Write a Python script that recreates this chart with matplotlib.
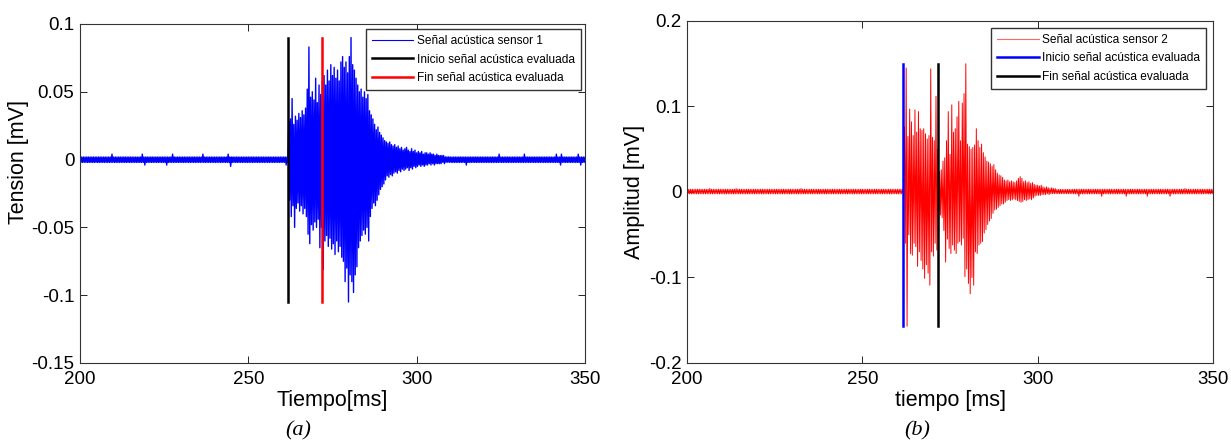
import numpy as np
import matplotlib
matplotlib.use("Agg")
import matplotlib.pyplot as plt
from matplotlib.ticker import FuncFormatter

plt.rcParams['font.family'] = ['Liberation Sans', 'DejaVu Sans']
plt.rcParams['axes.unicode_minus'] = False

# ---------------------------------------------------------------------------
# Acoustic records: per 0.5 ms slot, the positive and negative excursion [mV]
# ---------------------------------------------------------------------------
slot_ms = 0.5
t_start, t_end = 200.0, 350.0
burst_start = 262.0          # first slot of the burst lists

# Sensor 1 (slots 262.0 ... 309.5 ms)
upper_1 = [0.028, 0.030, 0.045, 0.026, 0.032, 0.029, 0.034, 0.031, 0.036, 0.033,
           0.038, 0.052, 0.083, 0.046, 0.050, 0.044, 0.060, 0.042, 0.055, 0.048,
           0.058, 0.062, 0.055, 0.066, 0.058, 0.070, 0.062, 0.068, 0.060, 0.066,
           0.058, 0.072, 0.076, 0.068, 0.072, 0.064, 0.076, 0.090, 0.070, 0.066,
           0.060, 0.055, 0.050, 0.052, 0.046, 0.050, 0.045, 0.048, 0.036, 0.033,
           0.030, 0.026, 0.022, 0.024, 0.020, 0.018, 0.016, 0.014, 0.013, 0.012,
           0.013, 0.011, 0.010, 0.011, 0.009, 0.010, 0.008, 0.009, 0.007, 0.008,
           0.009, 0.007, 0.006, 0.008, 0.006, 0.007, 0.005, 0.006, 0.005, 0.006,
           0.004, 0.005, 0.005, 0.004, 0.005, 0.004, 0.004, 0.003, 0.004, 0.003,
           0.003, 0.003, 0.003, 0.002, 0.002, 0.002]
lower_1 = [-0.030, -0.042, -0.034, -0.050, -0.036, -0.032, -0.038, -0.034, -0.040, -0.036,
           -0.042, -0.055, -0.062, -0.048, -0.052, -0.046, -0.050, -0.044, -0.065, -0.050,
           -0.081, -0.060, -0.056, -0.064, -0.058, -0.066, -0.062, -0.070, -0.060, -0.068,
           -0.064, -0.072, -0.075, -0.090, -0.080, -0.105, -0.085, -0.090, -0.098, -0.085,
           -0.079, -0.065, -0.060, -0.056, -0.052, -0.055, -0.050, -0.060, -0.042, -0.036,
           -0.032, -0.034, -0.030, -0.026, -0.022, -0.020, -0.018, -0.015, -0.012, -0.013,
           -0.011, -0.012, -0.010, -0.009, -0.010, -0.008, -0.009, -0.007, -0.008, -0.007,
           -0.006, -0.008, -0.006, -0.007, -0.005, -0.006, -0.005, -0.004, -0.005, -0.004,
           -0.005, -0.004, -0.004, -0.003, -0.004, -0.003, -0.004, -0.003, -0.003, -0.003,
           -0.003, -0.002, -0.003, -0.002, -0.002, -0.002]
band_1 = (0.0019, -0.0021)
spike_t_1 = [209.5, 218.5, 219.0, 225.5, 227.5, 236.5, 244.0, 244.5, 261.0,
             314.5, 324.5, 332.0, 341.5, 342.5, 343.0, 348.0, 348.5]
spike_v_1 = [0.004, 0.004, -0.004, -0.004, 0.004, 0.004, 0.004, -0.005, -0.004,
             -0.004, 0.004, 0.004, 0.004, -0.004, 0.004, 0.004, -0.004]
onset_1, offset_1 = 261.7, 271.8

# Sensor 2 (slots 262.0 ... 309.5 ms)
upper_2 = [0.076, 0.145, 0.065, 0.097, 0.082, 0.066, 0.096, 0.070, 0.094, 0.074,
           0.072, 0.074, 0.068, 0.062, 0.066, 0.144, 0.064, 0.060, 0.112, 0.050,
           0.024, 0.026, 0.036, 0.040, 0.060, 0.094, 0.044, 0.102, 0.070, 0.074,
           0.088, 0.106, 0.060, 0.104, 0.115, 0.150, 0.056, 0.053, 0.050, 0.052,
           0.055, 0.074, 0.060, 0.052, 0.056, 0.046, 0.041, 0.036, 0.035, 0.033,
           0.030, 0.032, 0.026, 0.022, 0.020, 0.019, 0.017, 0.014, 0.013, 0.014,
           0.012, 0.013, 0.012, 0.011, 0.013, 0.016, 0.018, 0.016, 0.012, 0.013,
           0.011, 0.012, 0.010, 0.011, 0.009, 0.008, 0.008, 0.007, 0.008, 0.006,
           0.005, 0.006, 0.005, 0.004, 0.005, 0.004, 0.004, 0.003, 0.003, 0.003,
           0.003, 0.003, 0.003, 0.003, 0.003, 0.003]
lower_2 = [-0.060, -0.157, -0.050, -0.072, -0.074, -0.060, -0.064, -0.087, -0.070, -0.080,
           -0.090, -0.101, -0.085, -0.095, -0.109, -0.070, -0.075, -0.060, -0.068, -0.050,
           -0.027, -0.030, -0.045, -0.082, -0.055, -0.066, -0.072, -0.062, -0.068, -0.072,
           -0.060, -0.058, -0.062, -0.054, -0.099, -0.090, -0.107, -0.119, -0.100, -0.109,
           -0.070, -0.072, -0.062, -0.060, -0.058, -0.048, -0.044, -0.038, -0.034, -0.031,
           -0.025, -0.021, -0.020, -0.018, -0.016, -0.014, -0.014, -0.012, -0.010, -0.009,
           -0.010, -0.009, -0.008, -0.009, -0.010, -0.011, -0.012, -0.011, -0.009, -0.010,
           -0.009, -0.008, -0.009, -0.007, -0.005, -0.004, -0.004, -0.004, -0.003, -0.003,
           -0.003, -0.002, -0.003, -0.002, -0.002, -0.002, -0.002, -0.002, -0.002, -0.002,
           -0.002, -0.002, -0.002, -0.002, -0.002, -0.002]
band_2 = (0.0032, -0.0022)
spike_t_2 = [206.5, 214.0, 232.5, 311.5, 318.0, 325.0, 331.0, 337.5, 342.0]
spike_v_2 = [0.004, 0.004, 0.004, -0.005, -0.005, -0.005, -0.005, -0.005, 0.004]
onset_2, offset_2 = 261.5, 271.7

x_ticks = [200, 250, 300, 350]
y_ticks_1 = [-0.15, -0.1, -0.05, 0, 0.05, 0.1]
y_ticks_2 = [-0.2, -0.1, 0, 0.1, 0.2]

legend_1 = ['Señal acústica sensor 1', 'Inicio señal acústica evaluada',
            'Fin señal acústica evaluada']
legend_2 = ['Señal acústica sensor 2', 'Inicio señal acústica evaluada',
            'Fin señal acústica evaluada']


def build_trace(upper, lower, band, spike_t, spike_v):
    """Lay the excursions out as an alternating trace over the full window."""
    slots = np.arange(t_start, t_end + slot_ms / 2, slot_ms)
    hi = np.full(slots.size, band[0])
    lo = np.full(slots.size, band[1])
    i0 = int(round((burst_start - t_start) / slot_ms))
    hi[i0:i0 + len(upper)] = upper
    lo[i0:i0 + len(lower)] = lower
    for ts, v in zip(spike_t, spike_v):
        k = int(round((ts - t_start) / slot_ms))
        if v > 0:
            hi[k] = v
        else:
            lo[k] = v
    t = np.column_stack([slots, slots + slot_ms / 2]).ravel()
    y = np.column_stack([hi, lo]).ravel()
    return t, y


def style_axes(ax, yticks, ylim, xlabel, ylabel):
    ax.set_xlim(t_start, t_end)
    ax.set_ylim(*ylim)
    ax.set_xticks(x_ticks)
    ax.set_yticks(yticks)
    ax.yaxis.set_major_formatter(FuncFormatter(lambda v, p: '%g' % v))
    ax.tick_params(direction='in', length=5, width=0.6, labelsize=13.5,
                   top=True, right=True, pad=4)
    ax.tick_params(axis='x', pad=6)
    for s in ax.spines.values():
        s.set_linewidth(0.8)
        s.set_color('#333333')
    ax.set_xlabel(xlabel, fontsize=15.5, labelpad=1)
    ax.set_ylabel(ylabel, fontsize=15.5, labelpad=3)


def add_legend(ax, handles, labels, anchor):
    ax.legend(handles, labels, loc='upper right',
              bbox_to_anchor=anchor, borderaxespad=0,
              prop={'family': 'Liberation Sans', 'size': 8.6},
              fancybox=False, framealpha=1, edgecolor='#333333',
              handlelength=3.5, handletextpad=0.3, labelspacing=0.55,
              borderpad=0.5)


fig = plt.figure(figsize=(12.31, 4.41), dpi=100)
ax1 = fig.add_axes([0.0650, 0.1769, 0.4102, 0.7687])
ax2 = fig.add_axes([0.5581, 0.1769, 0.4273, 0.7755])

# Panel (a)
t1, y1 = build_trace(upper_1, lower_1, band_1, spike_t_1, spike_v_1)
h1, = ax1.plot(t1, y1, color='#0000ff', lw=1.0)
ymin1, ymax1 = min(lower_1), max(upper_1)
h2, = ax1.plot([onset_1, onset_1], [ymin1, ymax1], color='black', lw=1.8)
h3, = ax1.plot([offset_1, offset_1], [ymin1, ymax1], color='#ff0000', lw=1.8)
style_axes(ax1, y_ticks_1, (-0.15, 0.1), 'Tiempo[ms]', 'Tension [mV]')
ax1.yaxis.set_label_coords(-0.101, 0.593)
add_legend(ax1, [h1, h2, h3], legend_1, (0.992, 0.985))
ax1.get_legend().legend_handles[0].set_linewidth(0.8)

# Panel (b)
t2, y2 = build_trace(upper_2, lower_2, band_2, spike_t_2, spike_v_2)
g1, = ax2.plot(t2, y2, color='#ff0000', lw=0.7)
ymin2, ymax2 = min(lower_2), max(upper_2)
g2, = ax2.plot([onset_2, onset_2], [ymin2, ymax2], color='#0000ff', lw=1.8)
g3, = ax2.plot([offset_2, offset_2], [ymin2, ymax2], color='black', lw=1.8)
style_axes(ax2, y_ticks_2, (-0.2, 0.2), 'tiempo [ms]', 'Amplitud [mV]')
add_legend(ax2, [g1, g2, g3], legend_2, (0.987, 0.98))
ax2.get_legend().legend_handles[0].set_linewidth(0.8)
ax2.get_legend().legend_handles[0].set_color('#ff6666')

# Panel captions
fig.text(298 / 1231, 1 - 431 / 441, '(a)', family='Liberation Serif',
         style='italic', fontsize=16, ha='center', va='center')
fig.text(917 / 1231, 1 - 431 / 441, '(b)', family='Liberation Serif',
         style='italic', fontsize=16, ha='center', va='center')

fig.savefig('out.png', dpi=100)
